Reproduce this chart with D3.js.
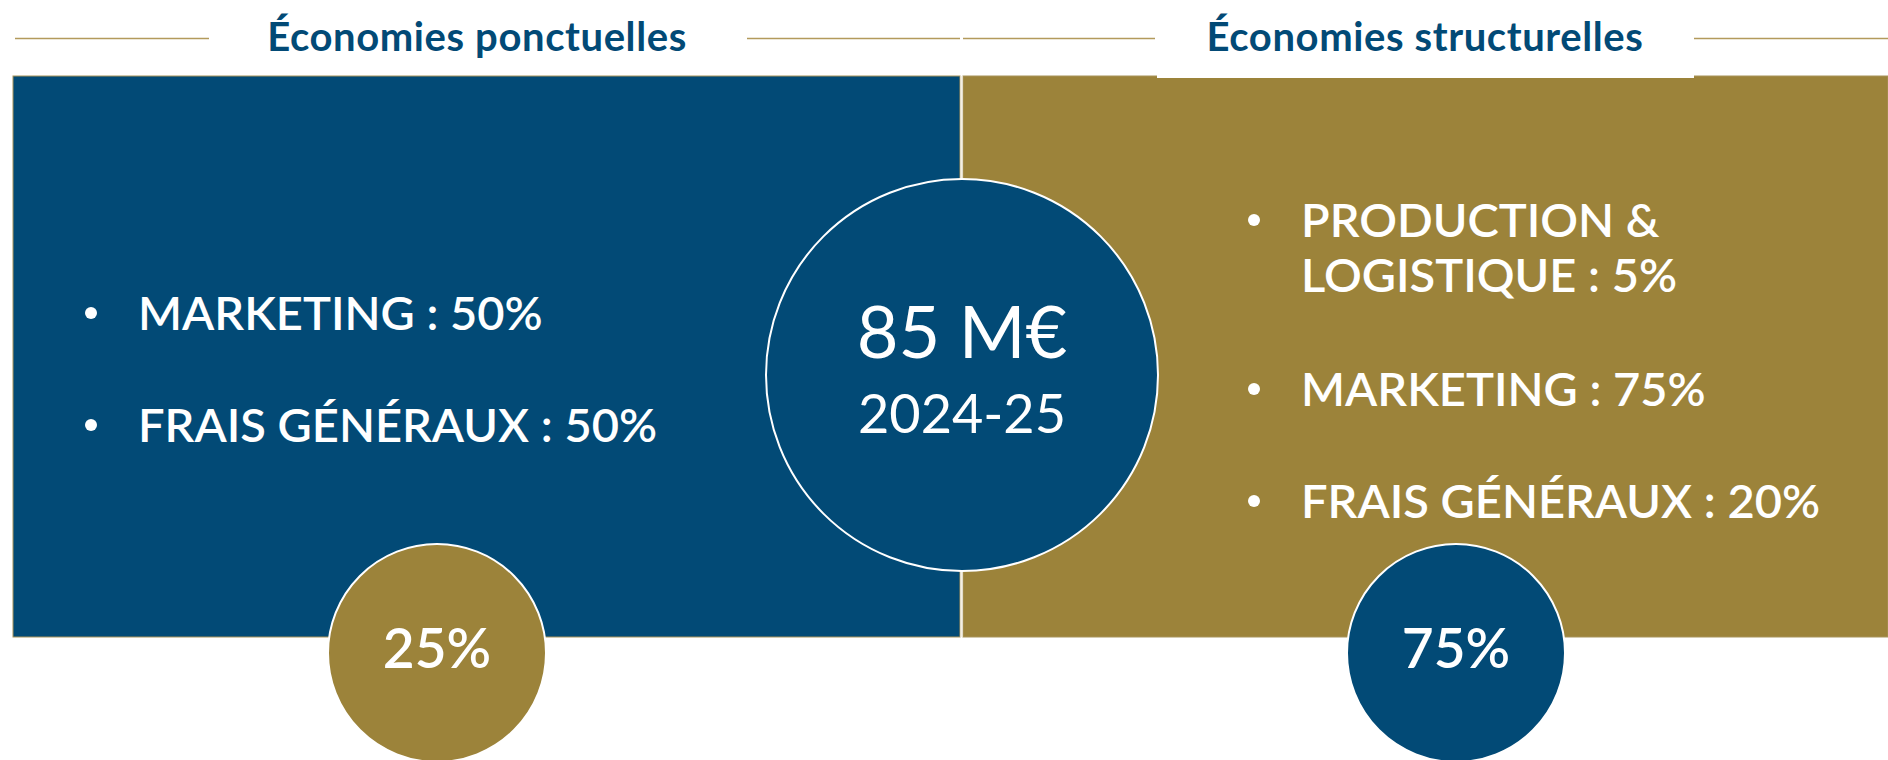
<!DOCTYPE html>
<html>
<head>
<meta charset="utf-8">
<script src="https://cdn.jsdelivr.net/npm/d3@7"></script>
<style>
  body { margin: 0; background: #fff; }
  text { font-family: Lato, "Noto Sans", sans-serif; }
</style>
</head>
<body>
<div class="chart"></div>
<script>
// Data
let categories = ["Économies ponctuelles", "Économies structurelles"];
let shares = [25, 75];
let totalValue = "85 M€";
let period = "2024-25";
let itemsPonctuelles = [["MARKETING", 50], ["FRAIS GÉNÉRAUX", 50]];
let itemsStructurelles = [["PRODUCTION &", "LOGISTIQUE", 5], ["MARKETING", 75], ["FRAIS GÉNÉRAUX", 20]];

let svgWidth = 1888;
let svgHeight = 760;

let blue = "#024a76";
let gold = "#9c833a";
let lineGold = "#b39a5c";

let svg = d3.select(".chart")
  .append("svg")
  .attr("width", svgWidth)
  .attr("height", svgHeight);

// Scales: panel position, bubble position, colours
let panelX = d3.scaleOrdinal().domain(categories).range([13, 963]);
let panelW = d3.scaleOrdinal().domain(categories).range([947, 925]);
let titleX = d3.scaleOrdinal().domain(categories).range([477, 1425]);
let bubbleX = d3.scaleOrdinal().domain(categories).range([437, 1456]);
let fill = d3.scaleOrdinal().domain(categories).range([blue, gold]);
let bubbleFill = d3.scaleOrdinal().domain(categories).range([gold, blue]);

let panelTop = 76, panelBottom = 637;

// Header rules
let rules = [[15, 209], [747, 960], [963, 1155], [1694, 1888]];
svg.selectAll("line.rule")
  .data(rules)
  .enter().append("line")
  .attr("class", "rule")
  .attr("x1", d => d[0]).attr("x2", d => d[1])
  .attr("y1", 38.5).attr("y2", 38.5)
  .attr("stroke", lineGold)
  .attr("stroke-width", 1.5);

// Panels
svg.selectAll("rect.panel")
  .data(categories)
  .enter().append("rect")
  .attr("class", "panel")
  .attr("x", d => panelX(d))
  .attr("y", panelTop)
  .attr("width", d => panelW(d))
  .attr("height", panelBottom - panelTop)
  .attr("fill", d => fill(d))
  .attr("stroke", "#a8935a")
  .attr("stroke-width", 1);

// divider
svg.append("line")
  .attr("x1", 961.5).attr("x2", 961.5)
  .attr("y1", panelTop).attr("y2", panelBottom)
  .attr("stroke", "#f4efe4")
  .attr("stroke-width", 2);

// white tab behind the right title
svg.append("rect")
  .attr("x", 1157).attr("y", 0)
  .attr("width", 537).attr("height", 78)
  .attr("fill", "#fff");

// Titles
svg.selectAll("text.title")
  .data(categories)
  .enter().append("text")
  .attr("class", "title")
  .attr("x", d => titleX(d))
  .attr("y", 51)
  .attr("text-anchor", "middle")
  .attr("fill", blue)
  .attr("font-size", 40)
  .attr("font-weight", 700)
  .attr("letter-spacing", 0.6)
  .text(d => d);

// Bullet lists
function drawList(items, x, baselines) {
  let g = svg.append("g");
  items.forEach(function(item, i) {
    let lines = item.slice(0, -1);
    let pct = item[item.length - 1];
    let y0 = baselines[i];
    g.append("circle")
      .attr("cx", x - 47)
      .attr("cy", y0 - 17)
      .attr("r", 6)
      .attr("fill", "#fff");
    lines.forEach(function(l, j) {
      let last = j === lines.length - 1;
      g.append("text")
        .attr("x", x)
        .attr("y", y0 + j * 55)
        .attr("fill", "#fff")
        .attr("font-size", 47)
        .attr("font-weight", 600)
        .text(last ? l + " : " + pct + "%" : l);
    });
  });
}
drawList(itemsPonctuelles, 138, [330, 442]);
drawList(itemsStructurelles, 1301, [237, 406, 518]);

// Centre circle
svg.append("circle")
  .attr("cx", 962).attr("cy", 375).attr("r", 196)
  .attr("fill", blue)
  .attr("stroke", "#fff")
  .attr("stroke-width", 2);

svg.append("text")
  .attr("x", 962).attr("y", 358)
  .attr("text-anchor", "middle")
  .attr("fill", "#fff")
  .attr("font-size", 72)
  .attr("font-weight", 400)
  .text(totalValue);

svg.append("text")
  .attr("x", 962).attr("y", 433)
  .attr("text-anchor", "middle")
  .attr("fill", "#fff")
  .attr("font-size", 54)
  .attr("font-weight", 400)
  .text(period);

// Share bubbles
let bubbles = svg.selectAll("g.bubble")
  .data(categories)
  .enter().append("g")
  .attr("class", "bubble");

bubbles.append("circle")
  .attr("cx", d => bubbleX(d))
  .attr("cy", 653)
  .attr("r", 109)
  .attr("fill", d => bubbleFill(d))
  .attr("stroke", "#fff")
  .attr("stroke-width", 2);

bubbles.append("text")
  .attr("x", d => bubbleX(d))
  .attr("y", 668)
  .attr("text-anchor", "middle")
  .attr("fill", "#fff")
  .attr("font-size", 55)
  .attr("font-weight", 600)
  .text((d, i) => shares[i] + "%");
</script>
</body>
</html>
